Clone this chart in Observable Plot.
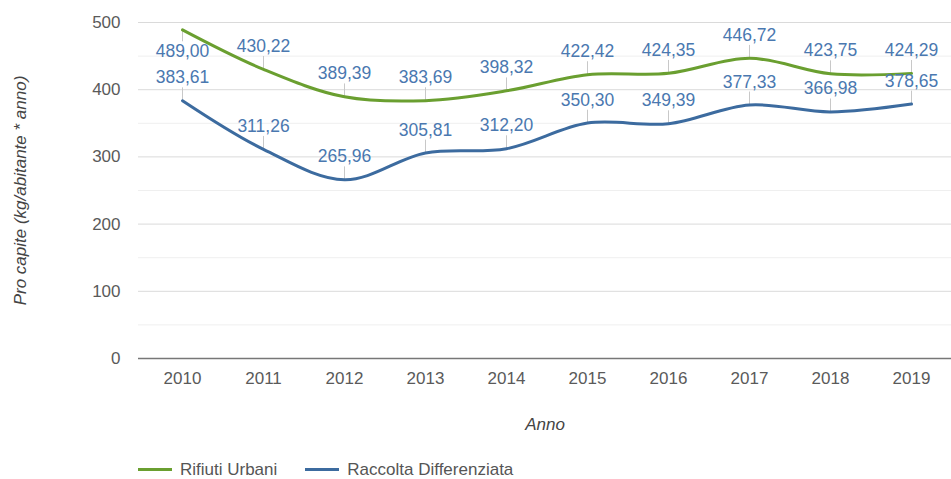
<!DOCTYPE html>
<html>
<head>
<meta charset="utf-8">
<script src="https://cdn.jsdelivr.net/npm/d3@7"></script>
<script src="https://cdn.jsdelivr.net/npm/@observablehq/plot@0.6"></script>
<style>
  html, body { margin: 0; padding: 0; background: #fff; }
  body { font-family: "Liberation Sans", Arial, sans-serif; width: 951px; height: 479px; position: relative; overflow: hidden; }
  #chart svg { display: block; }
  .legend { position: absolute; left: 138px; top: 460px; display: flex; align-items: center; font-size: 17px; color: #555; line-height: 19px; height: 19px; }
  .legend .item { display: flex; align-items: center; margin-right: 28px; }
  .legend .sw { width: 34px; height: 3px; margin-right: 8px; }
</style>
</head>
<body>
<div id="chart"></div>
<div class="legend" id="legend"></div>
<script>
// ---- data ----
const years = [2010, 2011, 2012, 2013, 2014, 2015, 2016, 2017, 2018, 2019];
const rifiutiUrbani = [489.00, 430.22, 389.39, 383.69, 398.32, 422.42, 424.35, 446.72, 423.75, 424.29];
const raccoltaDifferenziata = [383.61, 311.26, 265.96, 305.81, 312.20, 350.30, 349.39, 377.33, 366.98, 378.65];
const seriesNames = ["Rifiuti Urbani", "Raccolta Differenziata"];
const seriesColors = ["#6a9f30", "#3c6b9f"];
const yTicks = [0, 100, 200, 300, 400, 500];
const yMinorTicks = [50, 150, 250, 350, 450];
const yLabel = "Pro capite (kg/abitante * anno)";
const xLabel = "Anno";

// ---- layout ----
const W = 951, H = 448, mT = 22, mB = 90, mL = 138, mR = 0;
const yMax = 500;
const pxPerUnit = (H - mT - mB) / yMax;

const rows = [];
years.forEach((yr, i) => {
  rows.push({year: String(yr), series: seriesNames[0], value: rifiutiUrbani[i]});
  rows.push({year: String(yr), series: seriesNames[1], value: raccoltaDifferenziata[i]});
});
const fmt = v => d3.format(".2f")(v).replace(".", ",");
const fitsAbove = d => (yMax - d.value) * pxPerUnit >= 32;
const above = rows.filter(fitsAbove);
const below = rows.filter(d => !fitsAbove(d));

const stem = {draw(ctx, l) { ctx.moveTo(0, 0); ctx.lineTo(0, -l); }};

const chart = Plot.plot({
  width: W, height: H,
  marginTop: mT, marginBottom: mB, marginLeft: mL, marginRight: mR,
  style: {fontFamily: '"Liberation Sans", Arial, sans-serif', fontSize: "17px", background: "#fff"},
  x: {type: "point", domain: years.map(String), range: [180, 913], padding: 0, label: null},
  y: {domain: [0, yMax], label: null},
  color: {domain: seriesNames, range: seriesColors},
  marks: [
    Plot.ruleY(yMinorTicks, {stroke: "#efefef", strokeWidth: 1}),
    Plot.ruleY(yTicks.filter(t => t > 0), {stroke: "#dadada", strokeWidth: 1}),
    Plot.ruleY([0], {stroke: "#777", strokeWidth: 1.5}),
    Plot.axisY(yTicks, {tickSize: 0, tickPadding: 18, fill: "#5a5a5a", fontSize: 17, label: null}),
    Plot.axisX({tickSize: 0, tickPadding: 13, fill: "#5a5a5a", fontSize: 17, label: null}),
    Plot.vector(above, {x: "year", y: "value", length: 13, rotate: 0, anchor: "start", shape: stem, stroke: "#c8c8c8", strokeWidth: 1}),
    Plot.vector(below, {x: "year", y: "value", length: 11, rotate: 180, anchor: "start", shape: stem, stroke: "#c8c8c8", strokeWidth: 1}),
    Plot.line(rows, {x: "year", y: "value", z: "series", stroke: "series", strokeWidth: 3, curve: "catmull-rom"}),
    Plot.text(above, {x: "year", y: "value", text: d => fmt(d.value), dy: -23, fill: "#4a78b0", fontSize: 17.5}),
    Plot.text(below, {x: "year", y: "value", text: d => fmt(d.value), dy: 21, fill: "#4a78b0", fontSize: 17.5}),
    Plot.text([yLabel], {frameAnchor: "left", textAnchor: "middle", dx: -118, rotate: -90, fontStyle: "italic", fill: "#444", fontSize: 17}),
    Plot.text([xLabel], {frameAnchor: "bottom", dy: 71, fontStyle: "italic", fill: "#444", fontSize: 17})
  ]
});
document.getElementById("chart").append(chart);

const legend = document.getElementById("legend");
seriesNames.forEach((name, i) => {
  const item = document.createElement("div");
  item.className = "item";
  const sw = document.createElement("span");
  sw.className = "sw";
  sw.style.background = seriesColors[i];
  const t = document.createElement("span");
  t.textContent = name;
  item.append(sw, t);
  legend.append(item);
});
</script>
</body>
</html>
